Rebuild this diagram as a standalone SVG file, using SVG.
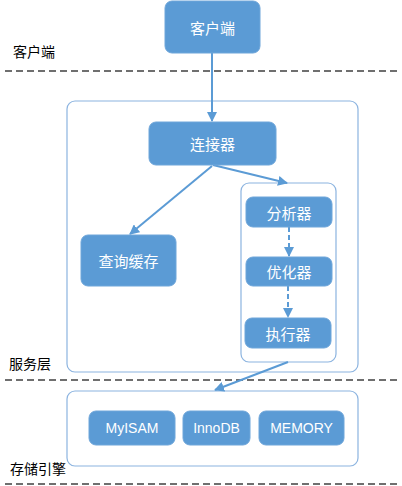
<svg xmlns="http://www.w3.org/2000/svg" width="402" height="486" viewBox="0 0 402 486">
<style>
.node{fill:#5b9bd5;stroke:#6fa6da;stroke-width:1}
.frame{fill:#ffffff;stroke:#8cb4e0;stroke-width:1.2}
.nt{font-family:"Noto Sans CJK SC","Liberation Sans",sans-serif;font-size:15px;fill:#ffffff;text-anchor:middle;dominant-baseline:central}
.et{font-family:"Liberation Sans","Noto Sans CJK SC",sans-serif;font-size:14px;fill:#ffffff;text-anchor:middle;dominant-baseline:central}
.lbl{font-family:"Noto Sans CJK SC",sans-serif;font-size:14px;fill:#000000}
.sep{stroke:#404040;stroke-width:1.5;stroke-dasharray:7,4;fill:none}
.conn{stroke:#5b9bd5;stroke-width:2;fill:none;marker-end:url(#ah)}
.dconn{stroke:#5b9bd5;stroke-width:2;fill:none;stroke-dasharray:5,3;marker-end:url(#ah)}
</style>
<defs>
<marker id="ah" viewBox="0 0 10 10" refX="9" refY="5" markerWidth="5" markerHeight="5" orient="auto" markerUnits="strokeWidth">
<path d="M0,0 L10,5 L0,10 z" fill="#5b9bd5"/>
</marker>
</defs>
<g id="separators">
<line class="sep" x1="5" y1="71" x2="398" y2="71"/>
<line class="sep" x1="5" y1="380" x2="398" y2="380"/>
<line class="sep" x1="5" y1="484" x2="398" y2="484"/>
</g>
<g id="layer-labels">
<text class="lbl" x="13" y="57">客户端</text>
<text class="lbl" x="9" y="369">服务层</text>
<text class="lbl" x="10" y="474">存储引擎</text>
</g>
<g id="server-layer"><rect class="frame" x="67" y="101" width="291" height="271" rx="8"/></g>
<g id="executor-group"><rect class="frame" x="241" y="183" width="95" height="179" rx="8"/></g>
<g id="storage-layer"><rect class="frame" x="67" y="391" width="291" height="75" rx="8"/></g>
<g id="connectors">
<line class="conn" x1="212" y1="53" x2="212" y2="121"/>
<line class="conn" x1="212" y1="166" x2="130" y2="234"/>
<line class="conn" x1="213" y1="165" x2="287" y2="183"/>
<line class="dconn" x1="289" y1="227" x2="289" y2="256"/>
<line class="dconn" x1="288" y1="286" x2="288" y2="317"/>
<line class="conn" x1="288" y1="362" x2="215" y2="390"/>
</g>
<g id="client"><rect class="node" x="165" y="1" width="95" height="52" rx="7"/><text class="nt" x="212.5" y="27">客户端</text></g>
<g id="connector"><rect class="node" x="149" y="122" width="127" height="43" rx="7"/><text class="nt" x="212.5" y="143.5">连接器</text></g>
<g id="query-cache"><rect class="node" x="81" y="235" width="95" height="51" rx="7"/><text class="nt" x="128.5" y="260.5">查询缓存</text></g>
<g id="analyzer"><rect class="node" x="246" y="197" width="86" height="30" rx="7"/><text class="nt" x="289" y="212">分析器</text></g>
<g id="optimizer"><rect class="node" x="246" y="257" width="86" height="29" rx="7"/><text class="nt" x="289" y="271.5">优化器</text></g>
<g id="executor"><rect class="node" x="245" y="318" width="86" height="30" rx="7"/><text class="nt" x="288" y="333">执行器</text></g>
<g id="myisam"><rect class="node" x="89" y="411" width="86" height="34" rx="7"/><text class="et" x="132" y="428">MyISAM</text></g>
<g id="innodb"><rect class="node" x="183" y="411" width="67" height="34" rx="7"/><text class="et" x="216.5" y="428">InnoDB</text></g>
<g id="memory"><rect class="node" x="259" y="411" width="85" height="34" rx="7"/><text class="et" x="301.5" y="428">MEMORY</text></g>
</svg>
